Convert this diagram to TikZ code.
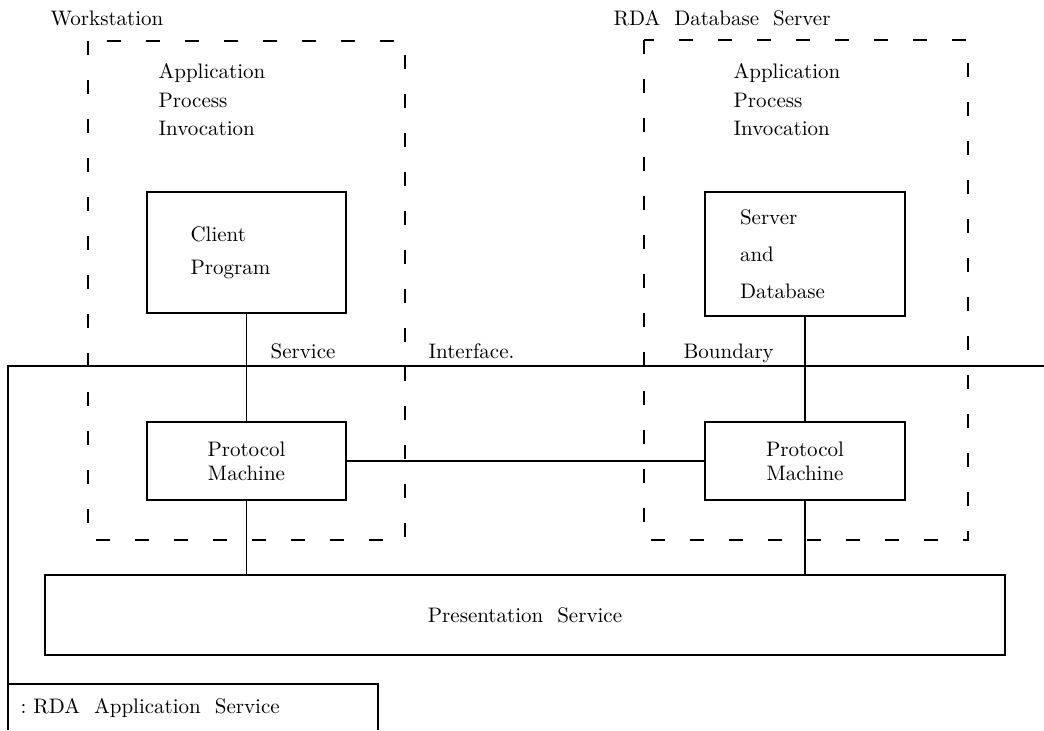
\documentclass[tikz,border=0pt]{standalone}
\usetikzlibrary{positioning}
\begin{document}
\begin{tikzpicture}[x=0.5pt,y=-0.5pt,line width=0.6pt,
    every node/.style={font=\fontsize{10.5}{14}\selectfont,inner sep=0pt},
    box/.style={draw,line width=0.6pt},
    dashbox/.style={dash pattern=on 7pt off 12.5pt}]
    \useasboundingbox (0,0) rectangle (1044,730);
    % dashed application process boxes
    \draw[dashbox] (88,41) rectangle (405,540);
    \draw[dashbox] (644,40) rectangle (968,540);
    % service boundary and legend
    \draw (1044,366) -- (8,366) -- (8,730);
    \draw (8,684) -- (378,684) -- (378,730);
    \node[anchor=base west] (ws) at (50,25) {Workstation};
    \node[anchor=base west] (dbs) at (613,25) {RDA\ \ Database\ \ Server};
    \node[anchor=north west,align=left,font=\fontsize{10.5}{14.2}\selectfont] (apiL) at (158,63) {Application\\Process\\Invocation};
    \node[anchor=north west,align=left,font=\fontsize{10.5}{14.2}\selectfont] (apiR) at (733,63) {Application\\Process\\Invocation};
    \node[box,minimum width=99.5pt,minimum height=60.5pt,text width=56pt,align=left,font=\fontsize{10.5}{16.5}\selectfont] (client) at (246.5,252.5) {Client\\Program};
    \node[box,minimum width=100pt,minimum height=62pt,text width=65pt,align=left,font=\fontsize{10.5}{18.5}\selectfont] (server) at (805,254) {Server\\and\\Database};
    \node[box,minimum width=99.5pt,minimum height=39pt,align=center,font=\fontsize{10.5}{12}\selectfont] (pmL) at (246.5,461) {Protocol\\Machine};
    \node[box,minimum width=100pt,minimum height=39pt,align=center,font=\fontsize{10.5}{12}\selectfont] (pmR) at (805,461) {Protocol\\Machine};
    \node[box,minimum width=480pt,minimum height=40pt] (pres) at (525,615) {Presentation\ \ Service};
    \draw (client) -- (pmL);
    \draw (server) -- (pmR);
    \draw (pmL) -- (pmR);
    \draw (pmL.south) -- (pmL.south |- pres.north);
    \draw (pmR.south) -- (pmR.south |- pres.north);
    \node[anchor=base west] (svc) at (270,358) {Service};
    \node[anchor=base west] (itf) at (428,358) {Interface.};
    \node[anchor=base west] (bnd) at (683,358) {Boundary};
    \node[anchor=base west] (legend) at (20,713) {:\ RDA\ \ Application\ \ Service};
\end{tikzpicture}
\end{document}
